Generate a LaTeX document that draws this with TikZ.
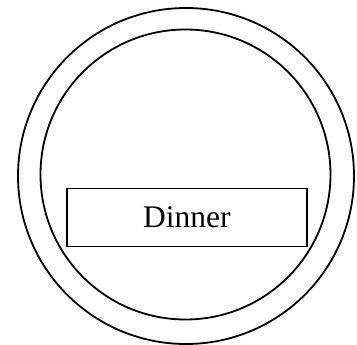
\documentclass[tikz,border=0pt]{standalone}
\usepackage{fontspec}
\setmainfont{Liberation Serif}
\begin{document}
\begin{tikzpicture}[x=1bp,y=1bp,
  ring/.style={draw=black,line width=1.8bp},
  labelbox/.style={draw=black,line width=1.8bp,rectangle,inner sep=0pt,
    minimum width=240bp,minimum height=58bp,text height=20bp,text depth=0bp,
    font=\fontsize{31.5bp}{33bp}\selectfont}]
\useasboundingbox (0,0) rectangle (357,345);
\node[ring,circle,minimum size=336bp,inner sep=0pt] (outer) at (186,169) {};
\node[ring,circle,minimum size=290bp,inner sep=0pt] (inner) at (185.5,170.5) {};
\node[labelbox] (dinner) at (186.8,127.5) {Dinner};
\end{tikzpicture}
\end{document}
